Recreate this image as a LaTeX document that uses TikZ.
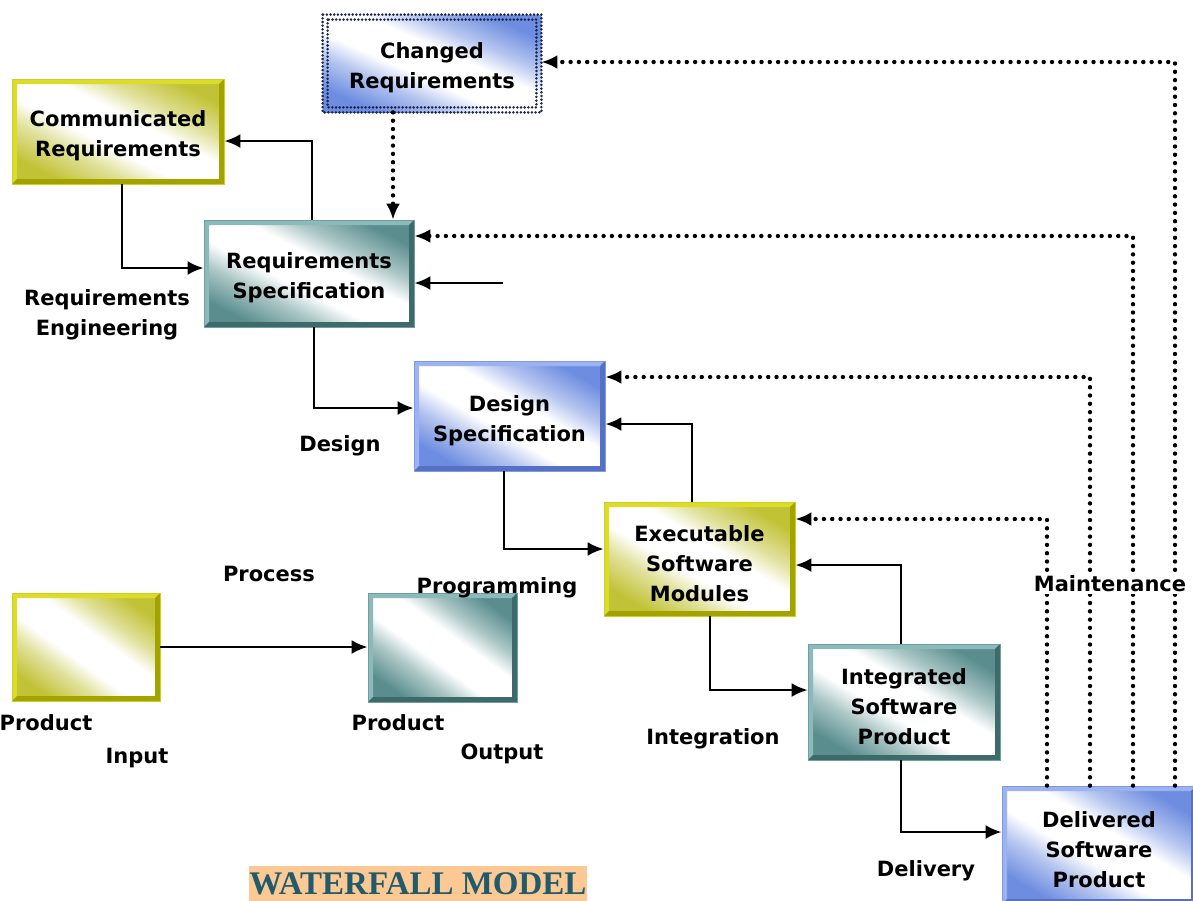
\documentclass[tikz,border=0pt]{standalone}
\usepackage{fontspec}
\setmainfont{DejaVu Sans}
\newfontfamily\titlefont{Liberation Serif}
\usetikzlibrary{arrows.meta}
\definecolor{ylwC}{HTML}{C2C236}
\definecolor{ylwL}{HTML}{DCDC2A}
\definecolor{ylwD}{HTML}{A3A300}
\definecolor{ylwO}{HTML}{CFCF1E}
\definecolor{tealC}{HTML}{5A8E8E}
\definecolor{tealL}{HTML}{8CBABA}
\definecolor{tealD}{HTML}{3E6A6A}
\definecolor{tealO}{HTML}{6E9F9F}
\definecolor{bluC}{HTML}{6E8DE0}
\definecolor{bluL}{HTML}{9DB2F0}
\definecolor{bluD}{HTML}{5670C4}
\definecolor{bluO}{HTML}{7F99E4}
\colorlet{ylwM}{ylwC!50!white}
\colorlet{tealM}{tealC!50!white}
\colorlet{bluM}{bluC!50!white}
\definecolor{peach}{HTML}{FCC995}
\definecolor{titleC}{HTML}{215A6B}
\definecolor{navy}{HTML}{1A2450}
\pgfdeclareverticalshading{shY}{100bp}{color(0bp)=(ylwC); color(25bp)=(ylwC); color(36bp)=(ylwM); color(44bp)=(white); color(56bp)=(white); color(64bp)=(ylwM); color(75bp)=(ylwC); color(100bp)=(ylwC)}
\pgfdeclareverticalshading{shT}{100bp}{color(0bp)=(tealC); color(25bp)=(tealC); color(36bp)=(tealM); color(44bp)=(white); color(56bp)=(white); color(64bp)=(tealM); color(75bp)=(tealC); color(100bp)=(tealC)}
\pgfdeclareverticalshading{shB}{100bp}{color(0bp)=(bluC); color(25bp)=(bluC); color(36bp)=(bluM); color(44bp)=(white); color(56bp)=(white); color(64bp)=(bluM); color(75bp)=(bluC); color(100bp)=(bluC)}
\begin{document}
\begin{tikzpicture}[x=1pt,y=-1pt,
  boxtext/.style={font=\fontsize{21}{30}\selectfont\bfseries, align=center, inner sep=0pt, yshift=-4.5pt},
  box/.style n args={4}{inner sep=0pt,
    shade, shading=#1, shading angle=-30,
    draw=#4, line width=0.8pt,
    path picture={
      \fill[#2] (path picture bounding box.south west) -- (path picture bounding box.north west)
        -- (path picture bounding box.north east)
        -- ([xshift=-5pt,yshift=-5pt]path picture bounding box.north east)
        -- ([xshift=5pt,yshift=-5pt]path picture bounding box.north west)
        -- ([xshift=5pt,yshift=5pt]path picture bounding box.south west) -- cycle;
      \fill[#3] (path picture bounding box.south west) -- (path picture bounding box.south east)
        -- (path picture bounding box.north east)
        -- ([xshift=-5pt,yshift=-5pt]path picture bounding box.north east)
        -- ([xshift=-5pt,yshift=5pt]path picture bounding box.south east)
        -- ([xshift=5pt,yshift=5pt]path picture bounding box.south west) -- cycle;
    }},
  ybox/.style={box={shY}{ylwL}{ylwD}{ylwO}},
  tbox/.style={box={shT}{tealL}{tealD}{tealO}},
  bbox/.style={box={shB}{bluL}{bluD}{bluO}},
  lbl/.style={font=\fontsize{21}{30}\selectfont\bfseries, align=center, inner sep=1pt},
  conn/.style={line width=2.6pt, -{Latex[length=16pt,width=14pt]}},
  dotconn/.style={line width=4.4pt, line cap=round, dash pattern=on 0pt off 8.3pt,
    -{Latex[length=16pt,width=14pt]}},
]
\useasboundingbox (0,0) rectangle (1193,900);
\clip (0,0) rectangle (1193,900);

% helper coordinates
\foreach \v in {122,312,314,393,504,692,710,901,1047,1090,1133,1175}
  {\coordinate (v\v) at (\v,0);}
\foreach \h in {62,141,236,268,377,408,424,519,549,565,647,690,832}
  {\coordinate (h\h) at (0,\h);}

% boxes
\node[ybox, shading angle=-27, minimum width=212pt, minimum height=105pt,
  label={[boxtext]center:Communicated\\Requirements}] (comm) at (118,131.5) {};
\node[bbox, shading angle=-24, draw=none, path picture={}, minimum width=218pt, minimum height=97pt,
  label={[boxtext]center:Changed\\Requirements}] (changed) at (432,63.5) {};
\draw[navy, line width=2.8pt, line cap=round, dash pattern=on 0pt off 3.7pt]
  (changed.north west) rectangle (changed.south east);
\draw[navy, line width=2.8pt, line cap=round, dash pattern=on 0pt off 3.7pt]
  ([xshift=5pt,yshift=-5pt]changed.north west) rectangle ([xshift=-5pt,yshift=5pt]changed.south east);
\node[tbox, shading angle=-27, minimum width=210pt, minimum height=107pt,
  label={[boxtext]center:Requirements\\Specification}] (reqspec) at (309,273.5) {};
\node[bbox, shading angle=-30, minimum width=191pt, minimum height=110pt,
  label={[boxtext]center:Design\\Specification}] (design) at (509.5,416) {};
\node[ybox, shading angle=-31, minimum width=191pt, minimum height=114pt,
  label={[boxtext]center:Executable\\Software\\Modules}] (exec) at (699.5,559) {};
\node[tbox, shading angle=-31, minimum width=192pt, minimum height=116pt,
  label={[boxtext]center:Integrated\\Software\\Product}] (integ) at (904,702) {};
\node[bbox, shading angle=-31, minimum width=194pt, minimum height=118pt,
  label={[boxtext]center:Delivered\\Software\\Product}] (deliv) at (1099,845) {};
\node[ybox, shading angle=-36, minimum width=148pt, minimum height=108pt] (prodin) at (86,647) {};
\node[tbox, shading angle=-36, minimum width=149pt, minimum height=109pt] (prodout) at (442.5,647.5) {};

% solid connectors
\draw[conn] (reqspec.north -| v312) |- (comm.east |- h141);
\draw[conn] (comm.south -| v122) |- (reqspec.west |- h268);
\coordinate (free) at (503,283);
\draw[conn] (free) -- (reqspec.east |- free);
\draw[conn] (reqspec.south -| v314) |- (design.west |- h408);
\draw[conn] (design.south -| v504) |- (exec.west |- h549);
\draw[conn] (exec.north -| v692) |- (design.east |- h424);
\draw[conn] (exec.south -| v710) |- (integ.west |- h690);
\draw[conn] (integ.north -| v901) |- (exec.east |- h565);
\draw[conn] (integ.south -| v901) |- (deliv.west |- h832);
\draw[conn] (prodin.east |- h647) -- (prodout.west |- h647);

% dotted connectors
\draw[dotconn] (changed.south -| v393) -- (reqspec.north -| v393);
\draw[dotconn] (deliv.north -| v1047) |- (exec.east |- h519);
\draw[dotconn] (deliv.north -| v1090) |- (design.east |- h377);
\draw[dotconn] (deliv.north -| v1133) |- (reqspec.east |- h236);
\draw[dotconn] (deliv.north -| v1175) |- (changed.east |- h62);

% labels
\node[lbl] (lre) at (107,315) {Requirements\\Engineering};
\node[lbl] (ldes) at (340,446) {Design};
\node[lbl] (lproc) at (269,574) {Process};
\node[lbl] (lprog) at (497,588) {Programming};
\node[lbl] (lprod1) at (46,723) {Product};
\node[lbl] (linput) at (137,758) {Input};
\node[lbl] (lprod2) at (398,723) {Product};
\node[lbl] (loutput) at (502,754) {Output};
\node[lbl] (lint) at (713,739) {Integration};
\node[lbl, fill=white, inner sep=2pt] (lmaint) at (1110,584) {Maintenance};
\node[lbl] (ldel) at (926,871) {Delivery};
\node[fill=peach, text=titleC, inner sep=0pt, minimum width=334pt, minimum height=36pt,
  font=\fontsize{33}{34}\selectfont\titlefont\bfseries] (title) at (418,884) {WATERFALL MODEL};
\end{tikzpicture}
\end{document}
